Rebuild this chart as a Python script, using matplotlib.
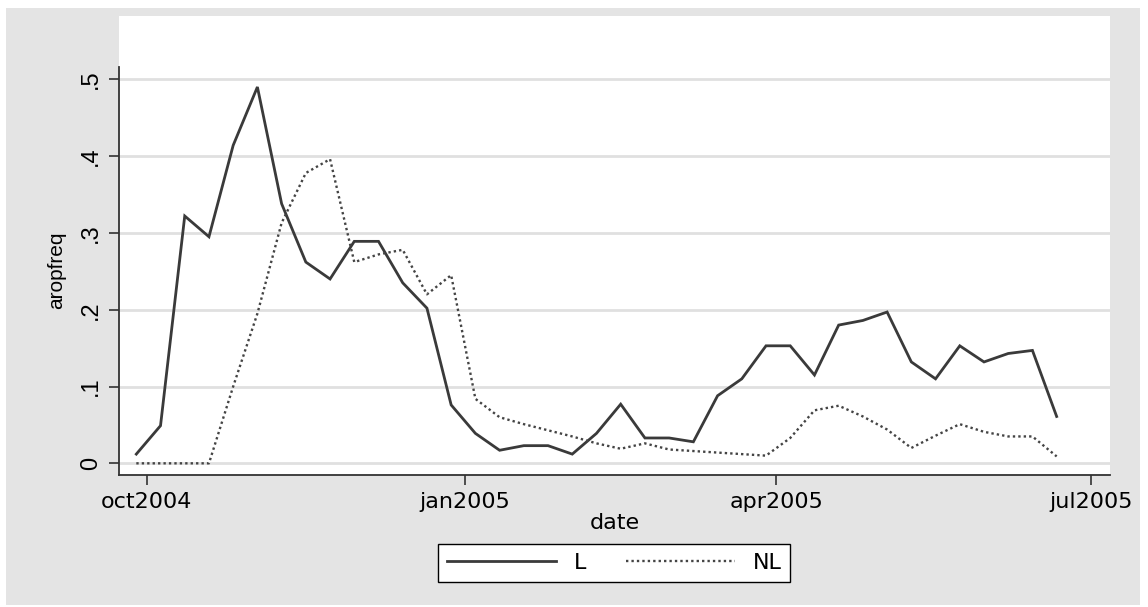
import datetime as dt
import matplotlib
matplotlib.use("Agg")
import matplotlib.pyplot as plt
import matplotlib.dates as mdates
from matplotlib.patches import Rectangle

# ---- data ----
start_date = dt.date(2004, 9, 28)
n_weeks = 39
dates = [start_date + dt.timedelta(weeks=i) for i in range(n_weeks)]

L_values = [0.012, 0.049, 0.322, 0.295, 0.414, 0.490, 0.338, 0.262, 0.240, 0.289,
            0.289, 0.235, 0.202, 0.076, 0.039, 0.017, 0.023, 0.023, 0.012, 0.039,
            0.077, 0.033, 0.033, 0.028, 0.088, 0.110, 0.153, 0.153, 0.115, 0.180,
            0.186, 0.197, 0.132, 0.110, 0.153, 0.132, 0.143, 0.147, 0.061]
NL_values = [0.0, 0.0, 0.0, 0.0, 0.100, 0.195, 0.313, 0.378, 0.396, 0.262,
             0.272, 0.278, 0.220, 0.245, 0.084, 0.060, 0.051, 0.043, 0.035, 0.026,
             0.019, 0.026, 0.018, 0.016, 0.014, 0.012, 0.010, 0.033, 0.069, 0.075,
             0.061, 0.044, 0.020, 0.036, 0.051, 0.041, 0.035, 0.035, 0.009]

series_labels = ["L", "NL"]
xtick_dates = [dt.date(2004, 10, 1), dt.date(2005, 1, 1), dt.date(2005, 4, 1), dt.date(2005, 7, 1)]
xtick_labels = ["oct2004", "jan2005", "apr2005", "jul2005"]
ytick_values = [0, 0.1, 0.2, 0.3, 0.4, 0.5]
ytick_labels = ["0", ".1", ".2", ".3", ".4", ".5"]

# ---- style ----
plt.rcParams["font.family"] = ["Liberation Sans", "DejaVu Sans"]
HFONT = ["DejaVu Sans"]          # horizontal texts (wider glyphs)
VFONT = ["Liberation Sans", "DejaVu Sans"]  # rotated texts
W, H = 1148, 607
fig = plt.figure(figsize=(W / 100, H / 100), dpi=100)
fig.patch.set_facecolor("white")
bg = "#e4e4e4"
fig.add_artist(Rectangle((6 / W, 1 - 605 / H), (1140 - 6) / W, (605 - 8) / H,
                         transform=fig.transFigure, facecolor=bg, edgecolor="none", zorder=-10))

ax_l, ax_r, ax_t, ax_b = 119, 1110, 16, 475
ax = fig.add_axes([ax_l / W, 1 - ax_b / H, (ax_r - ax_l) / W, (ax_b - ax_t) / H])
ax.set_zorder(1)
ax.set_facecolor("white")

line_col = "#3a3a3a"
ax.plot(dates, L_values, color=line_col, lw=2.0, solid_joinstyle="miter", label=series_labels[0])
ax.plot(dates, NL_values, color="#444444", lw=1.7, linestyle=(0, (1, 1.3)), label=series_labels[1])

ax.set_xlim(dt.date(2004, 9, 23), dt.datetime(2005, 7, 6, 10))
ax.set_ylim(-0.0152, 0.5824)

ax.set_xticks([mdates.date2num(d) for d in xtick_dates])
ax.set_xticklabels(xtick_labels, fontsize=16, family=HFONT)
ax.set_yticks(ytick_values)
ax.set_yticklabels(ytick_labels, fontsize=17, rotation=90, va="center", family=VFONT)

ax.grid(axis="y", color="#e0e0e0", lw=2)
ax.set_axisbelow(True)
for s in ["top", "right"]:
    ax.spines[s].set_visible(False)
for s in ["left", "bottom"]:
    ax.spines[s].set_color("#333333")
    ax.spines[s].set_linewidth(1.3)
ax.spines["left"].set_bounds(-0.0152, 0.5164)

ax.tick_params(axis="both", length=7, width=1.2, color="#333333", labelcolor="black")
ax.tick_params(axis="x", pad=5)
ax.tick_params(axis="y", pad=5)

ax.set_xlabel("date", fontsize=16, family=HFONT, labelpad=1)
ax.set_ylabel("aropfreq", fontsize=15, family=VFONT)
ax.yaxis.set_label_coords((66 - ax_l) / (ax_r - ax_l), (ax_b - 270) / (ax_b - ax_t))

leg = fig.legend(loc="center", bbox_to_anchor=(614 / W, 1 - 563 / H), ncol=2,
                 prop={"family": HFONT, "size": 16}, frameon=True, fancybox=False,
                 handlelength=4.9, handletextpad=0.8, columnspacing=1.8,
                 borderpad=0.4, framealpha=1)
leg.get_frame().set_edgecolor("black")
leg.get_frame().set_linewidth(1.0)
leg.get_frame().set_facecolor("white")

fig.savefig("out.png", dpi=100, facecolor=fig.get_facecolor())
